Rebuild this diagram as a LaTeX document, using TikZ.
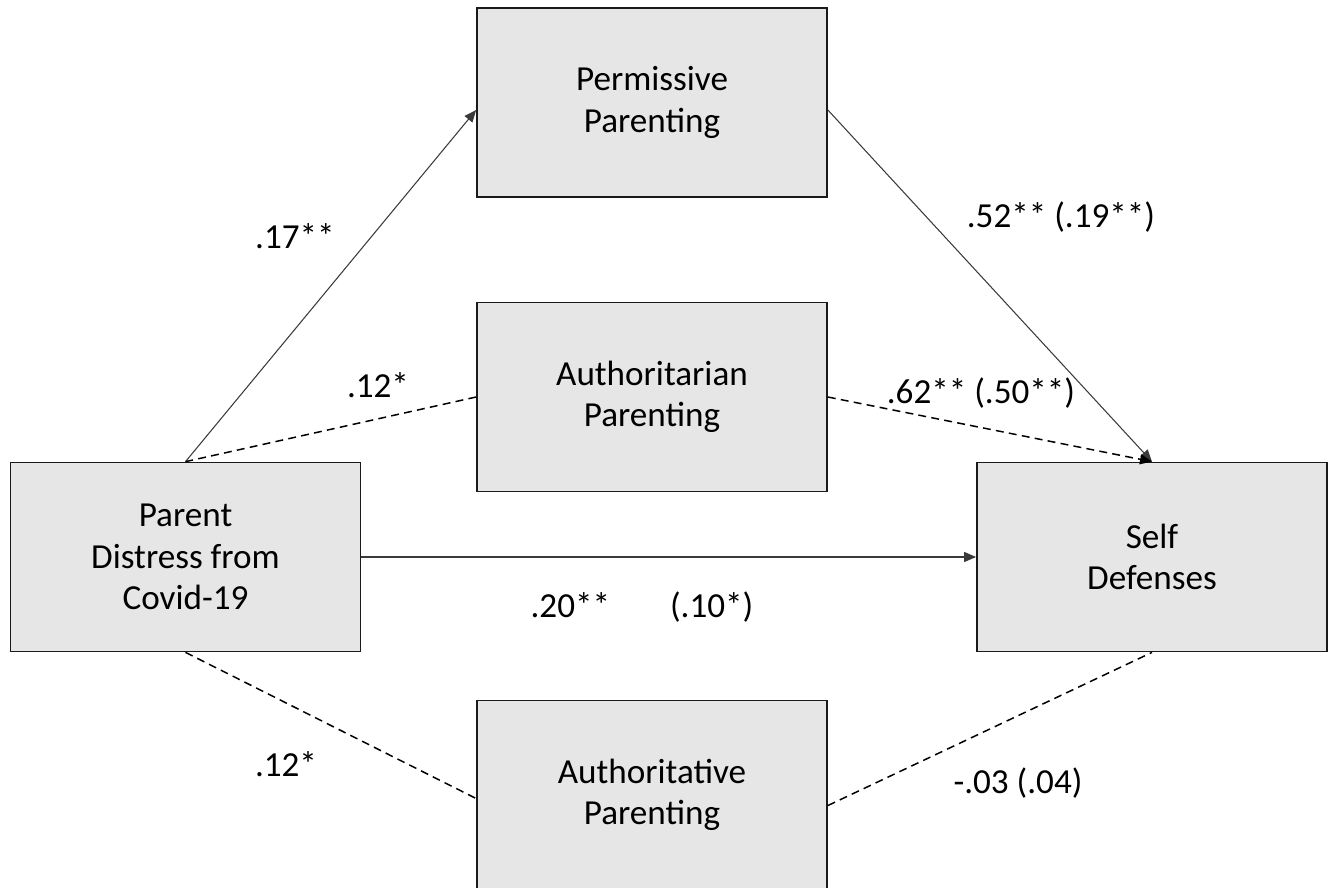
\documentclass[tikz,border=0pt]{standalone}
\usepackage{fontspec}
\setmainfont{Carlito}
\usepackage{xcolor}
\usepackage{tikz}
\usetikzlibrary{positioning, arrows.meta}
\definecolor{BoxFill}{HTML}{E6E6E6}
\definecolor{BoxLine}{HTML}{1A1A1A}
\definecolor{PathLine}{HTML}{3A3A3A}

\begin{document}
\begin{tikzpicture}[
  >={Triangle[length=0.24cm, width=0.2cm]},
  var/.style={draw=BoxLine, fill=BoxFill, line width=1pt, inner sep=0pt,
              minimum width=7cm, minimum height=3.78cm, align=center,
              font=\fontsize{20}{23.5}\selectfont},
  solidarr/.style={->, line width=0.6pt, color=PathLine},
  dasharr/.style={->, line width=0.85pt, dash pattern=on 4.5pt off 3pt},
  dashln/.style={line width=0.85pt, dash pattern=on 4.5pt off 3pt},
  coef/.style={font=\fontsize{20}{24}\selectfont, inner sep=0pt},
]
\useasboundingbox (0,0) rectangle (26.7,-17.74);

% ===== Variables =====
  \node[var] (Dist) at (3.71,-11.14) {Parent\\Distress from\\Covid-19};
  \node[var] (Self) at (23.04,-11.14) {Self\\Defenses};
  \node[var] (Perm) at (13.04,-2.05) {Permissive\\Parenting};
  \node[var] (Auth) at (13.04,-7.94) {Authoritarian\\Parenting};
  \node[var] (Autv) at (13.04,-15.9) {Authoritative\\Parenting};

% ===== Paths =====
  \draw[solidarr] (Dist.north) -- ([yshift=-0.15cm]Perm.west);
  \draw[dashln] (Auth.west) -- (Dist.north);
  \draw[solidarr] ([yshift=-0.15cm]Perm.east) -- (Self.north);
  \draw[dasharr] (Auth.east) -- (Self.north);
  \draw[solidarr] (Dist.east) -- (Self.west);
  \draw[dashln] (Dist.south) -- ([yshift=-0.07cm]Autv.west);
  \draw[dashln] ([yshift=-0.21cm]Autv.east) -- (Self.south);

% ===== Coefficients =====
  \node[coef] (cPerm) at (5.9,-4.72) {.17**};
  \node[coef] (cAuth) at (7.56,-7.7) {.12*};
  \node[coef] (cAutv) at (5.72,-15.28) {.12*};
  \node[coef] (cPermSelf) at (21.22,-4.34) {.52** (.19**)};
  \node[coef] (cAuthSelf) at (19.62,-7.86) {.62** (.50**)};
  \node[coef] (cAutvSelf) at (20.36,-15.66) {-.03 (.04)};
  \node[coef] (cDirect) at (12.84,-12.14) {.20**\hspace{1.2cm}(.10*)};

\end{tikzpicture}
\end{document}
